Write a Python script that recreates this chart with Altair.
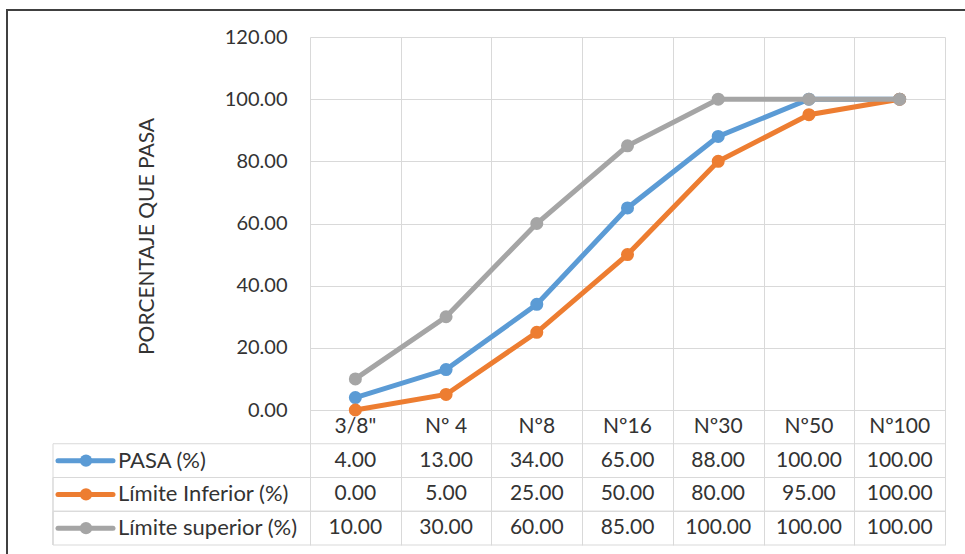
import altair as alt
import pandas as pd

# Sieve sizes and grading values (percentage passing)
categories = ['3/8"', 'Nº 4', 'Nº8', 'Nº16', 'Nº30', 'Nº50', 'Nº100']
series_names = ['PASA (%)', 'Límite Inferior (%)', 'Límite superior (%)']
pasa = [4.00, 13.00, 34.00, 65.00, 88.00, 100.00, 100.00]
limite_inferior = [0.00, 5.00, 25.00, 50.00, 80.00, 95.00, 100.00]
limite_superior = [10.00, 30.00, 60.00, 85.00, 100.00, 100.00, 100.00]
colors = ['#5B9BD5', '#ED7D31', '#A5A5A5']
y_ticks = [0, 20, 40, 60, 80, 100, 120]

HEADER_KEY = 'malla'
row_keys = [HEADER_KEY] + series_names

# layout (pixels)
PLOT_W = 635
PLOT_H = 373          # line-chart part
TABLE_H = 135         # data table below the plot
PAD_LEFT, PAD_TOP = 310, 37
FONT = 'Lato'
TEXT_COLOR = '#333333'
GRID_COLOR = '#D9D9D9'
FS_AXIS = 20
FS_TABLE = 21
FS_LEGEND = 22

Y_MAX = 120
y_min = -Y_MAX * TABLE_H / PLOT_H  # extends the value scale down over the table

values_by_series = dict(zip(series_names, [pasa, limite_inferior, limite_superior]))
long_df = pd.DataFrame(
    [{'tamiz': c, 'serie': s, 'valor': v}
     for s in series_names for c, v in zip(categories, values_by_series[s])]
)
header_df = pd.DataFrame({'tamiz': categories, 'fila': HEADER_KEY})
legend_df = pd.DataFrame({'serie': series_names})

x_axis = alt.Axis(grid=True, tickBand='extent', labels=False, ticks=False,
                  domain=False, title=None, gridColor=GRID_COLOR, gridWidth=1)
x_enc = alt.X('tamiz:N', sort=categories,
              scale=alt.Scale(domain=categories, paddingInner=0, paddingOuter=0),
              axis=x_axis)
color_enc = alt.Color('serie:N', scale=alt.Scale(domain=series_names, range=colors),
                      legend=None)
y_val_scale = alt.Scale(domain=[y_min, Y_MAX], nice=False, zero=False)
y_axis = alt.Axis(values=y_ticks, format='.2f', grid=True, gridColor=GRID_COLOR,
                  gridWidth=1, domain=False, ticks=False, labelPadding=23,
                  labelFont=FONT, labelFontSize=FS_AXIS, labelColor=TEXT_COLOR,
                  title='PORCENTAJE QUE PASA', titleFont=FONT, titleFontSize=21,
                  titleFontWeight='normal', titleColor=TEXT_COLOR,
                  titleX=-163, titleY=199, titleAngle=-90, titleBaseline='middle',
                  titleAlign='center')
y_enc = alt.Y('valor:Q', scale=y_val_scale, axis=y_axis)

# --- lines with markers, one layer per series so the last drawn sits on top
series_layers = []
for s in series_names:
    d = long_df[long_df['serie'] == s]
    base = alt.Chart(d).encode(x=x_enc, y=y_enc, color=color_enc)
    series_layers.append(base.mark_line(strokeWidth=5))
    series_layers.append(base.mark_circle(size=170, opacity=1))
plot_part = alt.layer(*series_layers)

# --- data table under the plot
row_scale = alt.Scale(domain=row_keys, range=[PLOT_H, PLOT_H + TABLE_H],
                      paddingInner=0, paddingOuter=0)
y_row = alt.Y('fila:N', scale=row_scale, axis=None)
y_serie = alt.Y('serie:N', scale=row_scale, axis=None)
y_serie_top = alt.Y('serie:N', scale=row_scale, axis=None, bandPosition=0)
y_serie_bottom = alt.Y('serie:N', scale=row_scale, axis=None, bandPosition=1)

LABEL_LEFT = -257     # left border of the table
SYM_X0, SYM_X1, SYM_DOT = -252, -197, -224
TEXT_X = -192

text_style = dict(font=FONT, color=TEXT_COLOR, baseline='middle')

header_text = alt.Chart(header_df).mark_text(
    align='center', fontSize=FS_TABLE, **text_style).encode(
    x=x_enc, y=y_row, text='tamiz:N')
value_text = alt.Chart(long_df).mark_text(
    align='center', fontSize=FS_TABLE, **text_style).encode(
    x=x_enc, y=y_serie, text=alt.Text('valor:Q', format='.2f'))
row_lines_top = alt.Chart(legend_df).mark_rule(color=GRID_COLOR, strokeWidth=1).encode(
    x=alt.value(LABEL_LEFT), x2=alt.value(PLOT_W), y=y_serie_top)
row_lines_bottom = alt.Chart(legend_df).mark_rule(color=GRID_COLOR, strokeWidth=1).encode(
    x=alt.value(LABEL_LEFT), x2=alt.value(PLOT_W), y=y_serie_bottom)
left_border = alt.Chart(legend_df).mark_rule(color=GRID_COLOR, strokeWidth=1).encode(
    x=alt.value(LABEL_LEFT), y=y_serie_top, y2=alt.value(PLOT_H + TABLE_H))
legend_line = alt.Chart(legend_df).mark_rule(strokeWidth=5, strokeCap='round').encode(
    x=alt.value(SYM_X0), x2=alt.value(SYM_X1), y=y_serie, color=color_enc)
legend_dot = alt.Chart(legend_df).mark_circle(size=150, opacity=1).encode(
    x=alt.value(SYM_DOT), y=y_serie, color=color_enc)
legend_text = alt.Chart(legend_df).mark_text(
    align='left', fontSize=FS_LEGEND, **text_style).encode(
    x=alt.value(TEXT_X), y=y_serie, text='serie:N')

table_part = alt.layer(row_lines_top, row_lines_bottom, left_border, header_text,
                       value_text, legend_line, legend_dot, legend_text)

# chart frame
frame = alt.Chart(pd.DataFrame({'k': [0]})).mark_rect(
    fillOpacity=0, stroke='#404040', strokeWidth=2).encode(
    x=alt.value(7 - PAD_LEFT), x2=alt.value(PLOT_W + 200),
    y=alt.value(10 - PAD_TOP), y2=alt.value(PLOT_H + TABLE_H + 100))

chart = alt.layer(frame, plot_part, table_part).resolve_scale(
    y='independent'
).properties(
    width=PLOT_W, height=PLOT_H + TABLE_H,
    padding={'left': PAD_LEFT, 'top': PAD_TOP, 'right': 20, 'bottom': 9},
    autosize=alt.AutoSizeParams(type='none'),
    background='white',
).configure_view(stroke=None)

chart.save("out.html", embed_options={"renderer": "svg", "actions": False})
